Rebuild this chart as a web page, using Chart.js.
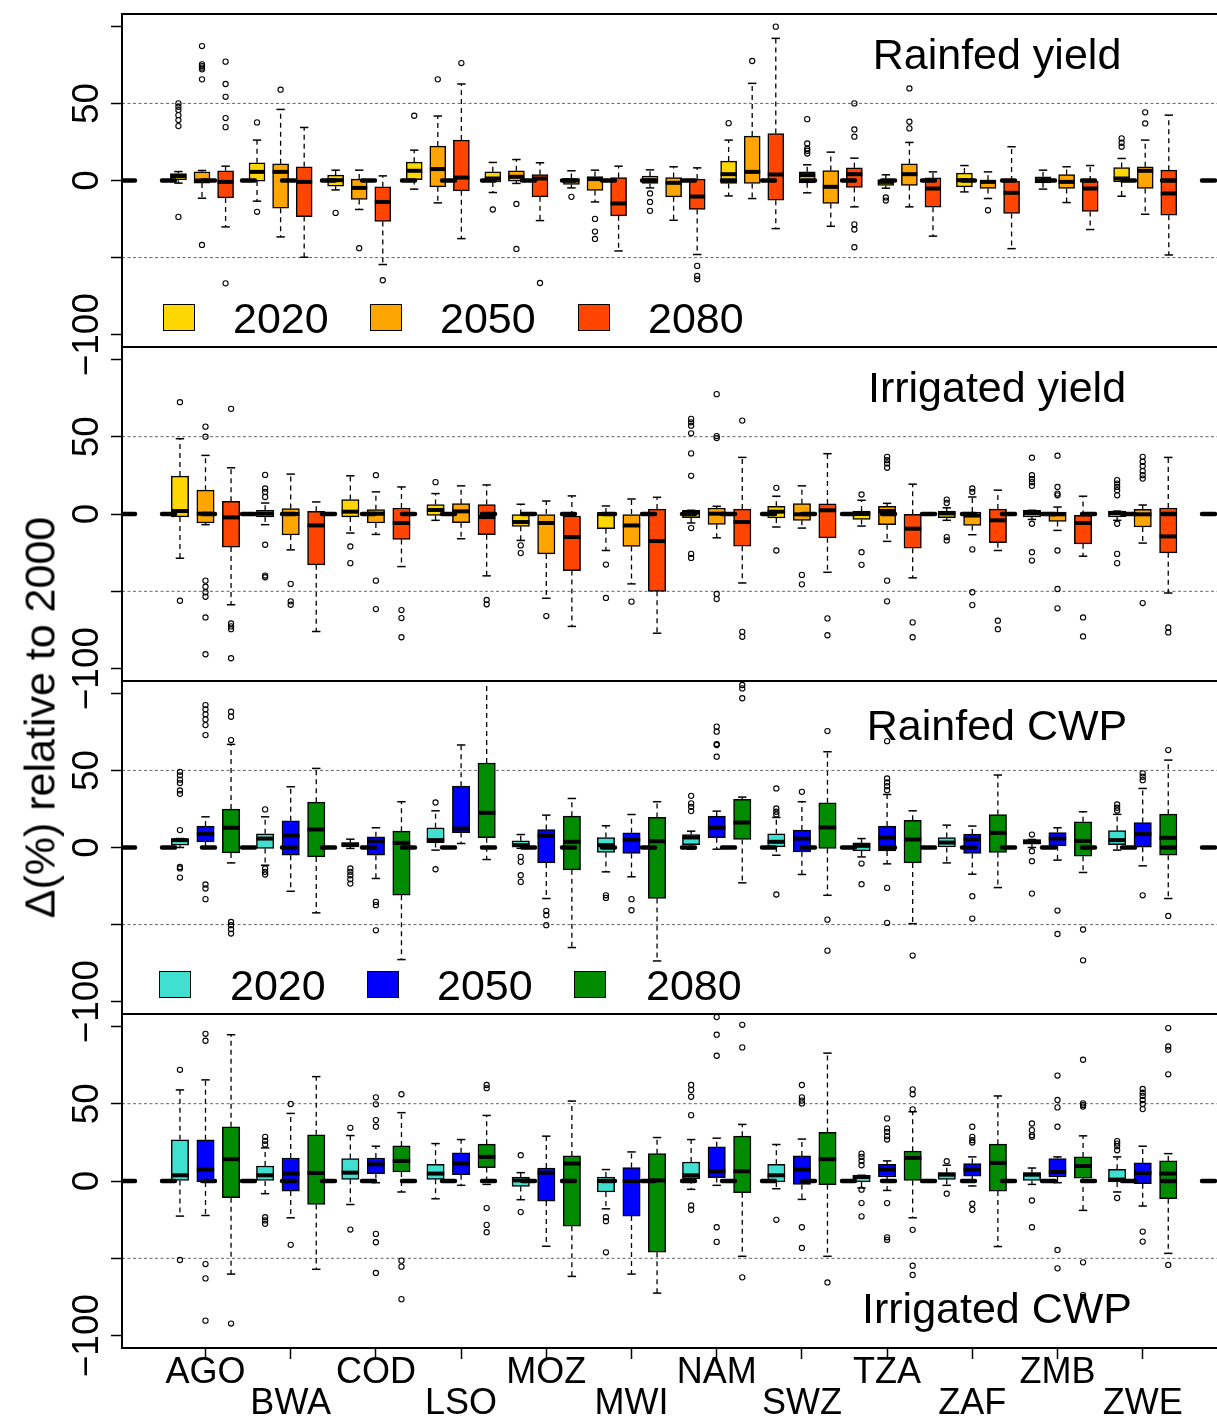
<!DOCTYPE html>
<html>
<head>
<meta charset="utf-8">
<script src="https://cdn.jsdelivr.net/npm/chart.js@4.4.1/dist/chart.umd.min.js"></script>
<style>
  html, body { margin: 0; padding: 0; background: #fff; }
  #wrap { position: relative; width: 1217px; height: 1421px; overflow: hidden;
          font-family: "Liberation Sans", Arial, Helvetica, sans-serif; color: #000; }
  .pane { position: absolute; left: 0; }
  .txt { position: absolute; font-size: 43px; line-height: 43px; white-space: nowrap; }
  .sq { position: absolute; width: 30px; height: 25px; border: 1.5px solid #000; }
</style>
</head>
<body>
<div id="wrap"></div>
<script>
// ---- data ----
const countries = ['AGO','BWA','COD','LSO','MOZ','MWI','NAM','SWZ','TZA','ZAF','ZMB','ZWE'];
const years = ['2020','2050','2080'];
const yieldCols = ['#FFD700','#FFA500','#FF4500'];
const cwpCols = ['#40E0D0','#0000FF','#008B00'];
const yTicks = [-100, -50, 0, 50, 100];
const yLabels = [-100, 0, 50];

// Rainfed yield (13 groups, 3 boxes each)
const ryLo  = [-1.7,-11.5,-30.1, -13.4,-36.6,-49.8, -6.1,-18.8,-54.5, -5.6,-14.5,-37.7, -7.8,-1.9,-26, -4.8,-13.9,-45.7,
               -4.8,-25.8,-48, -10,-11.7,-31.2, -8,-29.7,-17.1, -5,-17.1,-36.1, -7.4,-11.7,-44.2, -5.6,-14.3,-31.8, -10.2,-21.9,-48.3];
const ryQ1  = [0,-1.7,-11.3, -0.4,-18,-23.4, -3.7,-12.3,-26.6, 0.6,-4.1,-6.7, -0.9,-0.4,-10.6, -2.6,-6.5,-22.9,
               -1.9,-10.6,-18.8, -1.9,-1.9,-12.8, -1.5,-14.9,-4.5, -3.2,-3.2,-17.3, -4.1,-5.2,-21.4, -1.5,-5.2,-20.1, -0.9,-5.2,-22.5];
const ryMed = [2.8,0,-0.9, 5.6,5.6,-0.9, 0.2,-4.8,-13.9, 6.3,7.4,1.9, 1.3,2.4,1.3, 0,0.9,-14.9,
               0,-1.5,-10.4, 4.1,5.6,3.9, 3.5,-4.1,4.1, -0.9,4.1,-5.2, 0.2,-0.9,-8, 0.2,-0.9,-5.2, 1.3,6.3,-8.4];
const ryQ3  = [4.5,5.6,6.3, 11.5,10.8,8.9, 3.5,0.9,-4.1, 11.9,22.3,26.2, 5.6,6.3,3.9, 1.3,2.6,1.9,
               2.8,1.9,0.9, 12.6,28.8,30.5, 5.6,6.5,8.2, 0.6,10.8,1.7, 4.8,0.2,-0.4, 2.4,3.9,-0.4, 8.4,8.9,6.7];
const ryHi  = [5.8,6.5,9.3, 26.2,46.1,34.4, 6.7,6.7,3, 19.7,41.8,62.6, 11.7,13.6,11.5, 6.3,6.7,9.3,
               6.9,8.9,8.2, 26.2,63,92.2, 10.2,18.4,14.5, 3.7,24.7,5.6, 9.7,5.6,21.9, 6.7,8.9,9.7, 14.3,26.2,42.4];
const ryOut = [
  [50,47.8,45.7,42.4,39.2,35.3,-23.6], [87.2,75.3,74.2,73.2,72.1,65.6,-41.8], [77.1,62.6,54.3,40.5,34.6,-66.7],
  [37.7,-20.3], [58.9], [],
  [-21], [-43.9], [-64.7],
  [42], [65.6], [76.2],
  [-18.8], [-15.2,-44.4], [-66.5],
  [-10.6], [-24.9,-33.1,-37.9], [],
  [-8.4,-13.9,-19.7], [], [-55.4,-61.9,-64.1],
  [37.2], [77.5], [99.8],
  [39.8,24,20.6,19.3,17.5], [], [50,33.1,28.4,-28.4,-31.8,-43.3],
  [-11,-13], [59.7,38.1,33.8], [],
  [], [-19.3], [],
  [], [], [],
  [27.3,24.5,21.9], [44.2,37], []
];

// Irrigated yield
const iyLo  = [-28.6,-6.9,-58.7, -6.9,-23.2,-76, -12.3,-13.2,-34, -4.1,-16,-40, -17.1,-54.5,-72.7, -23.6,-45.2,-77.1,
               -5.8,-15.4,-44.6, -8.4,-9.1,-37.7, -7.8,-17.7,-41.3, -4.1,-13.4,-23.6, -3.5,-10.6,-27.3, -4.1,-18.8,-51.1];
const iyQ1  = [-1.9,-5.8,-21.4, -1.9,-13.6,-32.9, -1.9,-5.8,-16.5, -0.9,-5.6,-13.4, -8,-25.8,-36.6, -9.5,-21,-50,
               -2.4,-6.7,-20.8, -2.6,-4.1,-15.4, -3.5,-6.9,-22.1, -2.4,-7.4,-18.6, -1.9,-4.8,-19.3, -1.9,-8.4,-25.1];
const iyMed = [1.9,0.2,-2.2, 0.2,0,-7.4, 1.5,0.2,-5.8, 2.6,1.7,-2, -5.2,-5.8,-14.9, 0,-7.4,-17.5,
               0.9,0.2,-5.2, 1.5,-0.2,2.4, 0,1.9,-9.5, 0.4,-1,-4.1, 0.6,-0.2,-5.8, 0.6,-0.2,-14.5];
const iyQ3  = [24.5,15.4,8.2, 2.4,3.5,1.7, 9.3,2.8,3.9, 6.1,6.7,6.1, -0.4,0,-1.3, 0.6,0,3.2,
               2.4,3.9,3.2, 5,6.7,6.5, 1.9,5,-0.2, 1.9,1.3,3.2, 2.4,1.3,-0.9, 1.9,3,3.9];
const iyHi  = [48.7,37.9,29.9, 7.1,25.8,7.8, 24.7,14.3,17.5, 13.2,18.2,18.8, 6.3,8.4,11.7, 5.2,9.7,10.8,
               2.4,5,36.6, 11.5,18.2,39, 8.9,6.9,19.3, 4,11,15.4, 2.4,4.5,11.5, 1.9,5.8,36.6];
const iyOut = [
  [72.3,-56.1], [56.5,50,-43.1,-47,-50.6,-53.5,-66.9,-90.7], [68,-70.8,-72.7,-74.5,-93.3],
  [25.3,16.5,14.3,11,-19.9,-39.8,-40.9], [-45.2,-56.5,-58.7], [],
  [-21,-31.8], [25.1,-43.1,-61.5], [-62.1,-67.3,-79.7],
  [20.6], [], [-55.6,-58.4],
  [-20.3,-25.3], [-66], [],
  [-32.7,-54.3], [-56.7], [],
  [61.5,59.3,57.1,52.2,39.2,24.7,-9.1,-25.8,-28.4], [77.5,50.4,49.1,-51.7,-55], [60.4,-76.2,-79.4],
  [16.9,-23.6], [-39.4,-45.5], [-67.5,-78.4],
  [12.6,-24.7,-32.9], [37,34.8,32.7,29.9,-43.1,-56.5], [-70.1,-79.7],
  [9.3,7.1,-14.9,-17.1], [16.5,14.3,-22.9,-50.6,-58.9], [-69,-74.5],
  [36.4,25.1,22.7,20.6,18.2,-6.3,-24.7,-30.1], [37.7,17.5,13.2,12.1,-23.6,-48.5,-61], [-66.9,-79.2],
  [21.9,19.7,17.5,15.4,12.1,-6.3,-25.8,-31.8], [37,33.8,31,27.7,25.1,22.9,-57.6], [-73.4,-76.6]
];

// Rainfed CWP
const rcLo  = [0,0,-10, -11.5,-28.4,-42.4, -0.6,-20.1,-72.7, -1.7,2.6,-7.8, -0.5,-33.1,-64.9, -15.8,-19,-73.6,
               -1.1,-1.1,-22.9, -5,-17.5,-31, -6.1,-10.6,-49.4, -10,-17.3,-26, 0,-8.2,-16.2, -1.7,-11.9,-33.1];
const rcQ1  = [1.5,3.7,-3.5, -0.6,-5,-6.1, 0.4,-5,-31, 3.2,9.7,6.3, 0,-10,-14.5, -3.2,-3.9,-33.1,
               1.9,6.3,5.2, 0.4,-2.8,-0.6, -2.2,-2.2,-10, 0,-3.9,-3.2, 2.2,1.1,-5.6, 1.9,0.2,-5];
const rcMed = [4.8,8.7,12.8, 5.8,7.8,11.7, 1.9,4.3,3, 4.8,12.3,22.5, 1.5,7.6,3.7, 1.5,5,4.1,
               6.5,12.8,16.2, 3.7,5.8,13, 1.1,6.5,5.2, 3.2,5.4,9.5, 3.7,5.8,4.3, 4.8,8.7,6.3];
const rcQ3  = [5.4,13.9,24.9, 8.9,17.3,29.4, 3.2,6.9,10.6, 12.8,39.8,54.8, 4.3,11.7,20.3, 6.5,9.5,19.5,
               8.4,20.3,31.2, 8.9,11.3,29, 3,13.9,17.7, 6.5,8.7,21.4, 5.2,9.7,16.7, 11,16.2,21.6];
const rcHi  = [5.8,19.9,66.9, 19.9,39.4,51.3, 5.4,12.8,29.7, 23.8,66.5,115, 8.4,21,31.8, 14.1,21.4,29.7,
               10.6,23.6,32.7, 19.5,29.7,62.1, 5.8,34.4,23.8, 14.5,13.9,47, 5.2,12.8,23.2, 21.5,38.3,56.7];
const rcOut = [
  [49.1,46.8,44,41.8,37,34.8,11.3,-12.6,-13.6,-19.5], [92.4,89.6,86.4,83.1,79.4,72.9,-24,-26.6,-33.5], [88.1,84.8,69.7,-48.3,-50.4,-53,-55.8],
  [24.7,-13.6,-15.8,-17.5], [], [],
  [-13.6,-15.8,-18,-20.6,-23.4], [-35.3,-37.4,-53.7], [],
  [29.2,-14.1], [], [],
  [-6.1,-9.3,-18,-22.3], [-41.1,-43.9,-50.4], [],
  [-31,-32.7], [-33.5,-40.7], [],
  [33.5,28.6,26.4,23.6], [78.4,75.1,67.1,66.5,58.9], [105.4,103.2,96.8],
  [38.3,25.3,23.2,21.4,-30.5], [36.1], [75.5,-46.8,-66.9],
  [-10.4,-23.8], [69,44.8,42.2,39.8,37.2,-26.2,-48.9], [-70.1],
  [], [-31.6,-46.1], [],
  [8.4,-2.4,-8.9,-29.9], [-40.9,-56.1], [-53.2,-73.2],
  [27.9,25.8,24], [48.1,45.9,43.7,-31], [63.2,-44.4]
];

// Irrigated CWP
const icLo  = [-22.7,-22.3,-60.2, -8.2,-23.8,-57.1, -15.2,-1.1,-7.1, -11.5,-2.8,-2.2, -12.1,-42.2,-61.7, -18,-60.2,-72.5,
               -5.4,-2.8,-48.7, -5,-11.9,-48.7, -4.5,-6.1,-23.8, -2.8,-3.2,-42.4, -2.2,-1.1,-19, -7.1,-16.2,-46.8];
const icQ1  = [0.4,-0.6,-10.8, 0,-6.5,-15.2, 1.1,4.8,5.8, 1.1,4.1,8.7, -3.5,-13,-29.2, -7.1,-22.7,-46.1,
               1.5,2.2,-7.6, -0.6,-2.2,-2.4, -0.6,2.6,0.4, 1.1,3.2,-6.5, 0.4,2.6,1.9, -0.6,-1.7,-11.5];
const icMed = [3.7,7.4,14.1, 3.7,4.8,5.2, 5.4,10.8,13, 4.8,11.3,15.6, 0.4,5.4,11.3, 0,0,0.4,
               3.7,6.3,6.3, 3.7,7.4,14.1, 2.6,7.4,14.9, 4.1,7.4,11.7, 4.1,5.8,9.7, 0.9,5.2,4.8];
const icQ3  = [26.6,26.6,35.1, 9.7,14.9,29.9, 14.5,14.9,22.7, 10.8,18.2,23.8, 2.6,8.4,16.2, 2.6,8.7,17.7,
               12.3,22.1,29, 10.8,16.2,31.4, 3.7,10.8,19.3, 5.4,11.3,23.8, 5.4,14.5,15.6, 7.6,11.7,13];
const icHi  = [58.9,65.4,94.6, 21.4,43.7,67.5, 29.4,22.5,44.2, 24.2,26.8,42.4, 5.4,29,51.7, 7.4,18.8,28.1,
               26.8,27.7,36.6, 23.6,27.1,82.7, 3.7,13,44.8, 10.2,15.6,55, 8.4,15.6,29.2, 15.6,22.5,17.7];
const icOut = [
  [71.9,-51.1], [95.2,90.7,-53.7,-63,-90.3], [-92.2],
  [28.6,26,23.6,-23.4,-25.5,-27.7], [49.8,-41.3], [],
  [34.4,-31.4], [54.1,49.6,39.4,35.1,-34.2,-39.6,-59.5], [56.1,-51.5,-55.4,-76.4],
  [], [], [62.1,60,-17.5,-28.4,-33.1],
  [16.7,-20.1], [], [],
  [-23.4,-26,-46.1], [], [],
  [62.1,58.9,54.5,42.6,-15.8,-18.6], [106,94.6,81,-29.9,-39.4], [101,86.4,-62.3],
  [-25.1], [62.1,54.1,52,50.2,-29.9,-43.3], [-65.6],
  [17.7,15.6,13,10.2,-5.6,-14.3,-22.9], [40.5,34,31.8,29,26.8,-14.3,-36.4,-38.1], [59.3,56.1,46.3,-31.6,-54.8,-60.8],
  [12.8,-8.2], [35.1,28.6,26.4,24.9,-14.7,-18.6], [],
  [37.2,32.9,29.7,28.6,-12.6,-29.9], [68.2,52.4,47.6,35.1,-44.6,-56.5], [78.4,50.2,49.1,48.1,-52.6,-73.8],
  [25.8,24.2,22.5,19.9,-11], [59.5,57.1,55,52.4,49.8,46.5,-32.7,-39.2], [98.9,87,84.8,69,-54.3]
];

// ---- layout ----
const FONT = '"Liberation Sans", Arial, Helvetica, sans-serif';
Chart.defaults.font.family = FONT;
const wrap = document.getElementById('wrap');
const LEFT = 122, RIGHT = 1226, CW = 1232, PAD = 40;

const frame = {
  id: 'frame',
  afterDatasetsDraw(chart) {
    const {ctx, chartArea: a} = chart;
    ctx.save();
    ctx.strokeStyle = '#000';
    ctx.lineWidth = 2;
    ctx.strokeRect(a.left, a.top, a.right - a.left, a.bottom - a.top);
    ctx.fillStyle = '#000';
    ctx.font = '37px ' + FONT;
    ctx.textAlign = 'center';
    ctx.textBaseline = 'alphabetic';
    yLabels.forEach(v => {
      const py = chart.scales.y.getPixelForValue(v);
      ctx.save();
      ctx.translate(98, py);
      ctx.rotate(-Math.PI / 2);
      ctx.fillText(v < 0 ? '\u2212' + Math.abs(v) : String(v), 0, 0);
      ctx.restore();
    });
    ctx.restore();
  }
};

function addText(str, x, baseline, center) {
  const d = document.createElement('div');
  d.className = 'txt';
  d.textContent = str;
  d.style.top = (baseline - 36.4) + 'px';
  d.style.left = x + 'px';
  if (center) d.style.transform = 'translateX(-50%)';
  wrap.appendChild(d);
}

function addLegend(cols, sqX, txX, sqY, base) {
  cols.forEach((c, i) => {
    const s = document.createElement('div');
    s.className = 'sq';
    s.style.left = sqX[i] + 'px';
    s.style.top = sqY + 'px';
    s.style.background = c;
    wrap.appendChild(s);
    addText(years[i], txX[i], base, false);
  });
}

function panel(p, cols, lo, q1, med, q3, hi, out) {
  const last = !!p.axis;
  const ch = last ? 1421 - (p.top - PAD) : p.h + 2 * PAD;
  const div = document.createElement('div');
  div.className = 'pane';
  div.style.top = (p.top - PAD) + 'px';
  const cv = document.createElement('canvas');
  cv.width = CW; cv.height = ch;
  cv.style.width = CW + 'px'; cv.style.height = ch + 'px';
  div.appendChild(cv);
  wrap.appendChild(div);

  const xmin = (LEFT - p.g0) / p.unit, xmax = (RIGHT - p.g0) / p.unit;
  const xs = lo.map((v, i) => Math.floor(i / 3) + (i % 3 - 1) * 0.3);
  const whisk = [], caps = [], pts = [];
  xs.forEach((x, i) => {
    whisk.push({x, y: q3[i]}, {x, y: hi[i]}, {x, y: null}, {x, y: q1[i]}, {x, y: lo[i]}, {x, y: null});
    caps.push({x, y: hi[i]}, {x, y: lo[i]});
    out[i].forEach(v => pts.push({x, y: v}));
  });

  const hline = (y, color, w, dash, order, cap) => ({
    type: 'line', order, data: [{x: xmin, y}, {x: xmax, y}],
    borderColor: color, borderWidth: w, borderDash: dash, borderCapStyle: cap || 'butt',
    pointRadius: 0, fill: false
  });

  new Chart(cv, {
    type: 'bar',
    data: {
      datasets: [
        hline(0, '#000', 4.5, [13, 27], 0, 'round'),
        { type: 'scatter', order: 1, data: pts, pointStyle: 'circle', pointRadius: 2.6,
          pointBorderWidth: 1.1, pointBorderColor: '#000', pointBackgroundColor: 'rgba(0,0,0,0)' },
        { type: 'scatter', order: 2, data: xs.map((x, i) => ({x, y: med[i]})), pointStyle: 'line',
          pointRadius: p.box / 2, pointBorderWidth: 4, pointBorderColor: '#000' },
        { type: 'bar', order: 3, data: xs.map((x, i) => ({x, y: [q1[i], q3[i]]})),
          backgroundColor: xs.map((x, i) => cols[i % 3]), borderColor: '#000', borderWidth: 1.5,
          borderSkipped: false, barThickness: p.box, grouped: false },
        { type: 'scatter', order: 4, data: caps, pointStyle: 'line', pointRadius: 4.2,
          pointBorderWidth: 1.5, pointBorderColor: '#000' },
        { type: 'line', order: 5, data: whisk, borderColor: '#000', borderWidth: 1.3,
          borderDash: [5, 4], pointRadius: 0, spanGaps: false, fill: false },
        hline(50, '#666', 1, [3, 2.5], 6),
        hline(-50, '#666', 1, [3, 2.5], 6)
      ]
    },
    options: {
      responsive: false,
      devicePixelRatio: 1,
      animation: false,
      events: [],
      layout: { autoPadding: false,
                padding: { top: PAD, bottom: last ? 0 : PAD, left: 0, right: CW - RIGHT } },
      plugins: { legend: { display: false }, tooltip: { enabled: false }, title: { display: false } },
      scales: {
        x: {
          type: 'linear', min: xmin, max: xmax, offset: false, display: last,
          grid: { display: true, offset: false, drawOnChartArea: false, drawTicks: true,
                  tickLength: 11, tickColor: '#000', tickWidth: 1.5 },
          border: { display: false },
          afterBuildTicks: ax => { ax.ticks = countries.map((c, i) => ({value: i})); },
          afterFit: ax => { if (last) ax.height = ch - PAD - p.h; },
          ticks: {
            autoSkip: false, maxRotation: 0, minRotation: 0, color: '#000', padding: -1,
            font: { size: 36, lineHeight: 0.85 },
            callback: (v, i) => i % 2 ? ['', countries[i]] : countries[i]
          }
        },
        y: {
          type: 'linear', min: -108, max: 108,
          grid: { display: true, drawOnChartArea: false, drawTicks: true,
                  tickLength: 11, tickColor: '#000', tickWidth: 1.5 },
          border: { display: false },
          afterBuildTicks: ax => { ax.ticks = yTicks.map(v => ({value: v})); },
          afterFit: ax => { ax.width = LEFT; },
          ticks: { display: false }
        }
      }
    },
    plugins: [frame]
  });
}

panel({top: 14, h: 333, g0: 202, unit: 78.6, box: 16}, yieldCols, ryLo, ryQ1, ryMed, ryQ3, ryHi, ryOut);
panel({top: 347, h: 334, g0: 205.5, unit: 85.2, box: 17.4}, yieldCols, iyLo, iyQ1, iyMed, iyQ3, iyHi, iyOut);
panel({top: 681, h: 333, g0: 205.5, unit: 85.2, box: 17.4}, cwpCols, rcLo, rcQ1, rcMed, rcQ3, rcHi, rcOut);
panel({top: 1014, h: 334, g0: 205.5, unit: 85.2, box: 17.4, axis: true}, cwpCols, icLo, icQ1, icMed, icQ3, icHi, icOut);

// titles, legends, y title
addText('Rainfed yield', 997, 69, true);
addText('Irrigated yield', 997, 402, true);
addText('Rainfed CWP', 997, 740, true);
addText('Irrigated CWP', 997, 1323, true);
addLegend(yieldCols, [163, 370, 578], [233, 440, 648], 304, 333);
addLegend(cwpCols, [159, 367, 574], [230, 437, 646], 971, 1000);

const yt = document.createElement('div');
yt.className = 'txt';
yt.textContent = '\u0394(%) relative to 2000';
yt.style.width = '600px';
yt.style.textAlign = 'center';
yt.style.left = (40 - 300) + 'px';
yt.style.top = (717 - 21.5) + 'px';
yt.style.transform = 'rotate(-90deg)';
wrap.appendChild(yt);
</script>
</body>
</html>
